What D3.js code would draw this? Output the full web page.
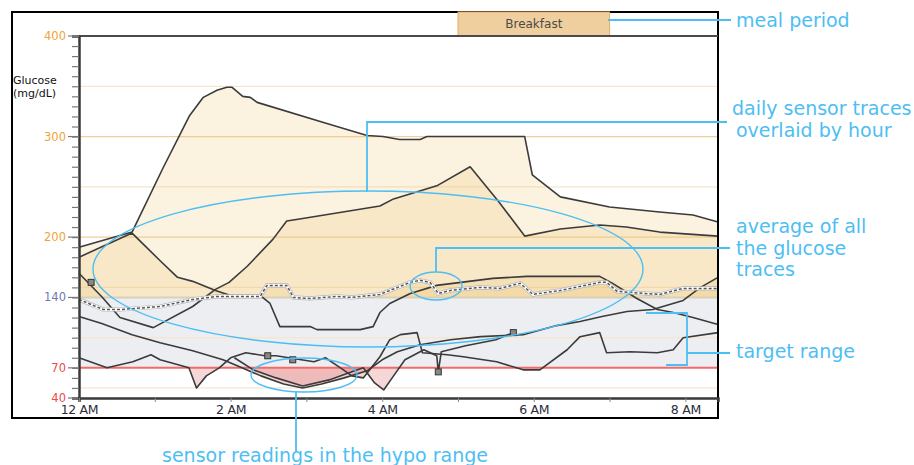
<!DOCTYPE html>
<html>
<head>
<meta charset="utf-8">
<script src="https://cdn.jsdelivr.net/npm/d3@7"></script>
<style>
  body { margin: 0; background: #fff; }
  svg { display: block; }
</style>
</head>
<body>
<div id="chart"></div>
<script>
// glucose traces, [hour after midnight, mg/dL]
var traceA = [[0,190],[0.70,205],[1.11,269],[1.46,321],[1.64,339],[1.82,346],[1.95,349],[2.02,349],[2.16,340],[2.26,339],[2.35,334],[3.27,313],[3.80,301],[4.01,300],[4.23,297],[4.50,297],[4.59,300],[5.88,300],[5.98,262],[6.35,240],[7.0,230],[7.66,225],[8.1,222],[8.43,215]];
var traceB = [[0,180],[0.70,204],[1.05,178],[1.3,160],[1.5,156],[1.8,147],[2.0,142],[2.39,142],[2.52,134],[2.65,111],[3.05,111],[3.14,108],[3.71,108],[3.88,111],[3.97,125],[4.1,134],[4.37,144],[4.72,152],[5.46,159],[5.91,161],[6.87,161],[7.04,154],[7.36,139],[7.63,128],[7.84,125],[8.1,120],[8.43,113]];
var traceC = [[0,164],[0.31,140],[0.54,120],[0.98,110],[1.5,131],[1.8,148],[1.98,155],[2.22,171],[2.56,198],[2.74,216],[2.91,218],[3.97,231],[4.15,238],[4.72,251],[5.16,270],[5.54,235],[5.88,201],[6.35,208],[6.87,212],[7.22,210],[7.66,205],[8.43,201]];
var traceE = [[0,121],[0.3,114],[0.7,103],[1.07,95],[1.5,87],[1.9,78],[2.15,70],[2.4,62],[2.7,54],[2.95,50],[3.2,54],[3.5,60],[3.8,67],[4.0,78],[4.2,86],[4.5,93],[4.9,98],[5.3,101],[5.86,103],[6.3,112],[6.61,116],[6.9,121],[7.23,126],[7.57,128],[7.97,137],[8.2,150],[8.43,160]];
var traceF = [[0,80],[0.37,70],[0.71,76],[0.95,83],[1.07,78],[1.45,70],[1.55,50],[1.68,62],[1.85,70],[2.0,80],[2.2,85],[2.45,82],[2.6,82],[2.85,79],[3.1,76],[3.25,80],[3.45,70],[3.6,62],[3.75,60],[3.97,81],[4.1,98],[4.24,103],[4.46,105],[4.53,85],[4.86,83],[5.07,81],[5.51,76],[5.86,68],[6.08,68],[6.44,88],[6.61,101],[6.87,105],[6.96,85],[7.27,86],[7.63,85],[7.84,88],[7.97,100],[8.43,105]];
var traceG = [[2.05,80],[2.3,68],[2.6,60],[2.95,52],[3.3,58],[3.6,66],[3.75,70],[3.9,55],[4.02,48],[4.15,62],[4.3,78],[4.55,88],[4.72,82],[4.74,66],[4.78,86],[5.1,92],[5.5,98],[5.73,105]];
var traces = [traceA, traceB, traceC, traceE, traceF, traceG];

var avgTrace = [[0,138],[0.32,128],[0.55,128],[1.07,131],[1.5,138],[1.82,141],[2.39,141],[2.48,152],[2.74,152],[2.83,140],[3.05,139],[3.4,141],[3.6,140],[3.97,143],[4.37,155],[4.5,157],[4.63,155],[4.74,144],[4.9,147],[5.29,150],[5.55,149],[5.82,154],[5.99,143],[6.35,147],[6.87,155],[6.96,155],[7.1,146],[7.45,144],[7.66,143],[7.97,149],[8.43,149]];

var markers = [[0.16,155],[2.49,82],[2.82,78],[4.74,66],[5.73,105]];

var targetLow = 70, targetHigh = 140;
var meal = {name: "Breakfast", start: 5, end: 7};

var yLabelTicks = [400, 300, 200, 140, 70, 40];
var yLabelColors = ["#eea43a", "#eea43a", "#eea43a", "#7077b4", "#f04a4a", "#f04a4a"];
var gridStrong = [300, 200];
var gridFaint = [350, 250, 150, 100, 50];
var xTickHours = [0, 1, 2, 3, 4, 5, 6, 7, 8];
var xTickLabels = ["12 AM", "", "2 AM", "", "4 AM", "", "6 AM", "", "8 AM"];

var width = 914, height = 465;
var plotLeft = 79, plotRight = 718, plotTop = 36, plotBottom = 398;
var labelFont = "'DejaVu Sans', Verdana, sans-serif";

var svg = d3.select("#chart").append("svg")
    .attr("width", width)
    .attr("height", height);

var x = d3.scaleLinear().domain([0, 8.43]).range([plotLeft, plotRight]);
var y = d3.scaleLinear().domain([40, 400]).range([plotBottom, plotTop]);

// clip regions above the target and below hypo line
var defs = svg.append("defs");
defs.append("clipPath").attr("id", "above")
    .append("rect").attr("x", plotLeft).attr("y", plotTop)
    .attr("width", plotRight - plotLeft).attr("height", y(targetHigh) - plotTop);
defs.append("clipPath").attr("id", "below")
    .append("rect").attr("x", plotLeft).attr("y", y(targetLow))
    .attr("width", plotRight - plotLeft).attr("height", plotBottom - y(targetLow));

// target band
svg.append("rect")
    .attr("x", plotLeft).attr("y", y(targetHigh))
    .attr("width", plotRight - plotLeft).attr("height", y(targetLow) - y(targetHigh))
    .attr("fill", "#eceef1");

// grid
svg.append("g").selectAll("line")
    .data(gridFaint).enter().append("line")
    .attr("x1", plotLeft).attr("x2", plotRight)
    .attr("y1", function(d) { return y(d); }).attr("y2", function(d) { return y(d); })
    .attr("stroke", "#f6e6cf").attr("stroke-width", 1.2);
svg.append("g").selectAll("line")
    .data(gridStrong).enter().append("line")
    .attr("x1", plotLeft).attr("x2", plotRight)
    .attr("y1", function(d) { return y(d); }).attr("y2", function(d) { return y(d); })
    .attr("stroke", "#f1cf9c").attr("stroke-width", 1.2);

var highArea = d3.area()
    .x(function(d) { return x(d[0]); })
    .y0(y(targetHigh))
    .y1(function(d) { return y(d[1]); });
var lowArea = d3.area()
    .x(function(d) { return x(d[0]); })
    .y0(y(targetLow))
    .y1(function(d) { return y(d[1]); });
var line = d3.line()
    .x(function(d) { return x(d[0]); })
    .y(function(d) { return y(d[1]); });

svg.append("g").attr("clip-path", "url(#above)")
    .selectAll("path")
    .data(traces.concat([avgTrace])).enter().append("path")
    .attr("d", highArea)
    .attr("fill", "rgb(238,196,112)")
    .attr("fill-opacity", 0.22);

svg.append("g").attr("clip-path", "url(#below)")
    .selectAll("path")
    .data(traces).enter().append("path")
    .attr("d", lowArea)
    .attr("fill", "rgb(222,110,110)")
    .attr("fill-opacity", 0.28);

// target limits
svg.append("line")
    .attr("x1", plotLeft).attr("x2", plotRight)
    .attr("y1", y(targetHigh)).attr("y2", y(targetHigh))
    .attr("stroke", "#d9d0b8").attr("stroke-width", 2);
svg.append("line")
    .attr("x1", plotLeft).attr("x2", plotRight)
    .attr("y1", y(targetLow)).attr("y2", y(targetLow))
    .attr("stroke", "#f46a6a").attr("stroke-width", 2);

// traces
svg.append("g").selectAll("path")
    .data(traces).enter().append("path")
    .attr("d", line)
    .attr("fill", "none")
    .attr("stroke", "#3b3b3b")
    .attr("stroke-width", 1.6)
    .attr("stroke-linejoin", "round");

// average
svg.append("path").datum(avgTrace).attr("d", line)
    .attr("fill", "none").attr("stroke", "#b5b5b5").attr("stroke-width", 4.2);
svg.append("path").datum(avgTrace).attr("d", line)
    .attr("fill", "none").attr("stroke", "#fff").attr("stroke-width", 2.8);
svg.append("path").datum(avgTrace).attr("d", line)
    .attr("fill", "none").attr("stroke", "#555").attr("stroke-width", 1.5)
    .attr("stroke-dasharray", "3,2");

svg.append("g").selectAll("rect")
    .data(markers).enter().append("rect")
    .attr("x", function(d) { return x(d[0]) - 3; })
    .attr("y", function(d) { return y(d[1]) - 3; })
    .attr("width", 6).attr("height", 6)
    .attr("fill", "#888").attr("stroke", "#333").attr("stroke-width", 1);

// frame
svg.append("rect")
    .attr("x", 12).attr("y", 12).attr("width", 706).attr("height", 406)
    .attr("fill", "none").attr("stroke", "#000").attr("stroke-width", 2);

// meal period box
svg.append("rect")
    .attr("x", x(meal.start)).attr("y", 12)
    .attr("width", x(meal.end) - x(meal.start)).attr("height", plotTop - 12)
    .attr("fill", "#f0cf9f").attr("stroke", "#e3ac66").attr("stroke-width", 1);
svg.append("text")
    .attr("x", (x(meal.start) + x(meal.end)) / 2).attr("y", 28)
    .attr("text-anchor", "middle")
    .style("font-family", labelFont).style("font-size", "12px")
    .attr("fill", "#4a4a4a").text(meal.name);

// plot top line
svg.append("line")
    .attr("x1", plotLeft).attr("x2", plotRight).attr("y1", plotTop).attr("y2", plotTop)
    .attr("stroke", "#4a4a4a").attr("stroke-width", 2);

// y axis
var yAxis = d3.axisLeft(y)
    .tickValues(d3.range(40, 401, 10))
    .tickSize(7)
    .tickFormat("");
svg.append("g").attr("transform", "translate(" + plotLeft + ",0)")
    .call(yAxis)
    .call(function(g) {
        g.select(".domain").attr("stroke", "#3a3a3a").attr("stroke-width", 2.5);
        g.selectAll(".tick line").attr("stroke", "#777").attr("stroke-width", 1.2);
    });
var yl = svg.append("g").selectAll("g")
    .data(yLabelTicks).enter().append("g");
yl.append("line")
    .attr("x1", plotLeft - 11).attr("x2", plotLeft)
    .attr("y1", function(d) { return y(d); }).attr("y2", function(d) { return y(d); })
    .attr("stroke", "#777").attr("stroke-width", 1.2);
yl.append("text")
    .attr("x", plotLeft - 13).attr("y", function(d) { return y(d) + 4; })
    .attr("text-anchor", "end")
    .style("font-family", labelFont).style("font-size", "11.5px")
    .attr("fill", function(d, i) { return yLabelColors[i]; })
    .text(function(d) { return d; });

svg.append("text").attr("x", 13).attr("y", 84)
    .style("font-family", labelFont).style("font-size", "11px")
    .attr("fill", "#111").text("Glucose");
svg.append("text").attr("x", 13).attr("y", 97)
    .style("font-family", labelFont).style("font-size", "11px")
    .attr("fill", "#111").text("(mg/dL)");

// x axis
var xAxis = d3.axisBottom(x)
    .tickValues(xTickHours)
    .tickSize(4)
    .tickFormat(function(d, i) { return xTickLabels[i]; });
svg.append("g").attr("transform", "translate(0," + plotBottom + ")")
    .call(xAxis)
    .call(function(g) {
        g.select(".domain").attr("stroke", "#3a3a3a").attr("stroke-width", 2.5);
        g.selectAll(".tick line").attr("stroke", "#888");
        g.selectAll(".tick text")
            .attr("y", 7)
            .style("font-family", labelFont).style("font-size", "12.5px")
            .style("letter-spacing", "-0.3px")
            .attr("fill", "#2c2c3a");
    });

// annotations
var blue = "#4dbef3";
var ann = svg.append("g");
function seg(pts) {
    ann.append("path").attr("d", d3.line()(pts))
        .attr("fill", "none").attr("stroke", blue).attr("stroke-width", 1.8);
}
seg([[608, 20], [731, 20]]);
seg([[367, 192], [367, 122], [727, 122]]);
seg([[436, 272], [436, 248], [730, 248]]);
seg([[646, 313], [687, 313], [687, 365], [666, 365]]);
seg([[687, 353], [730, 353]]);
seg([[296, 392], [296, 452]]);

ann.append("ellipse").attr("cx", 368).attr("cy", 269).attr("rx", 275).attr("ry", 78)
    .attr("fill", "none").attr("stroke", blue).attr("stroke-width", 1.4);
ann.append("ellipse").attr("cx", 436).attr("cy", 286).attr("rx", 26).attr("ry", 14)
    .attr("fill", "none").attr("stroke", blue).attr("stroke-width", 1.4);
ann.append("ellipse").attr("cx", 304).attr("cy", 375).attr("rx", 53).attr("ry", 17)
    .attr("fill", "none").attr("stroke", blue).attr("stroke-width", 1.4);

var annText = [
    {x: 736, y: 27, t: "meal period"},
    {x: 732, y: 115, t: "daily sensor traces"},
    {x: 736, y: 137, t: "overlaid by hour"},
    {x: 736, y: 233, t: "average of all"},
    {x: 736, y: 255, t: "the glucose"},
    {x: 736, y: 276, t: "traces"},
    {x: 736, y: 358, t: "target range"},
    {x: 162, y: 462, t: "sensor readings in the hypo range"}
];
ann.selectAll("text").data(annText).enter().append("text")
    .attr("x", function(d) { return d.x; })
    .attr("y", function(d) { return d.y; })
    .style("font-family", "'DejaVu Sans', sans-serif").style("font-size", "19px")
    .attr("fill", blue)
    .text(function(d) { return d.t; });
</script>
</body>
</html>
